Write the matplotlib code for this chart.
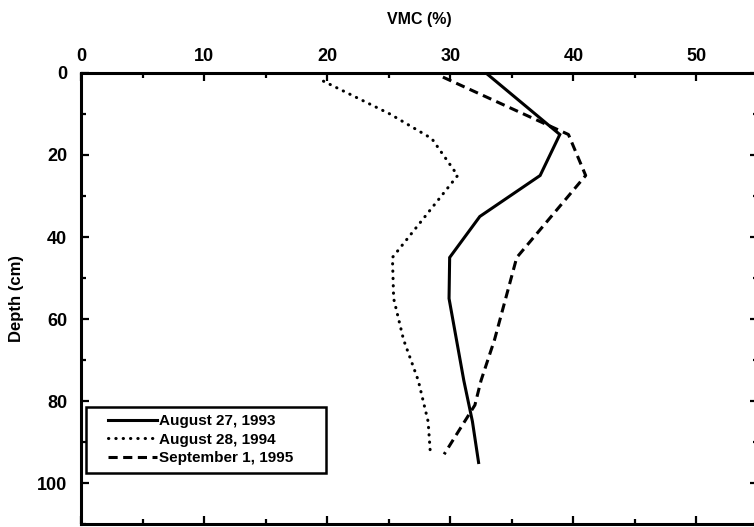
import matplotlib
matplotlib.use("Agg")
import numpy as np
import matplotlib.pyplot as plt
from matplotlib.ticker import MultipleLocator
from matplotlib.legend_handler import HandlerLine2D

plt.rcParams['font.family'] = ['Liberation Sans', 'DejaVu Sans']
plt.rcParams['font.weight'] = 'bold'

# Data
labels = ["August 27, 1993", "August 28, 1994", "September 1, 1995"]

depth_1993 = [0, 15, 25, 35, 45, 55, 65, 75, 85, 95]
vmc_1993 = [32.9, 38.9, 37.3, 32.4, 29.95, 29.9, 30.5, 31.1, 31.8, 32.3]

depth_1994 = [2, 10, 16, 25, 45, 55, 65, 75, 85, 93.5]
vmc_1994 = [19.7, 25.1, 28.5, 30.6, 25.3, 25.4, 26.2, 27.4, 28.2, 28.4]

depth_1995 = [1, 15, 25, 35, 45, 55, 65, 75, 81, 93]
vmc_1995 = [29.4, 39.6, 41.0, 38.2, 35.4, 34.5, 33.6, 32.5, 32.0, 29.5]

x_major = [0, 10, 20, 30, 40, 50]
y_major = [0, 20, 40, 60, 80, 100]


class GapHandler(HandlerLine2D):
    """Legend line handler leaving an empty gap before the line sample."""
    def __init__(self, gap_frac=0.23, **kw):
        super().__init__(**kw)
        self.gap_frac = gap_frac

    def create_artists(self, legend, orig_handle, xdescent, ydescent,
                       width, height, fontsize, trans):
        arts = super().create_artists(legend, orig_handle, xdescent, ydescent,
                                      width, height, fontsize, trans)
        for a in arts:
            x = np.asarray(a.get_xdata(), dtype=float)
            if x.size > 1:
                x0, x1 = x.min(), x.max()
                a.set_xdata(np.linspace(x0 + self.gap_frac * (x1 - x0), x1, x.size))
        return arts


fig = plt.figure(figsize=(7.54, 5.27), dpi=100)
ax = fig.add_axes([81/754, 1 - 524/527, 677/754, 451/527])

lw = 2.2
l1, = ax.plot(vmc_1993, depth_1993, color='black', lw=lw, linestyle='-',
              solid_joinstyle='miter', label=labels[0])
l2, = ax.plot(vmc_1994, depth_1994, color='black', lw=lw, linestyle=(0, (0.1, 2.3)),
              dash_capstyle='round', label=labels[1])
l3, = ax.plot(vmc_1995, depth_1995, color='black', lw=lw, linestyle=(0, (3, 1.8)),
              label=labels[2])

ax.set_xlim(0, 55)
ax.set_ylim(110, 0)
ax.set_xticks(x_major)
ax.set_yticks(y_major)
ax.xaxis.set_minor_locator(MultipleLocator(5))
ax.yaxis.set_minor_locator(MultipleLocator(10))

ax.tick_params(which='both', direction='in', top=True, bottom=True,
               left=True, right=True, labeltop=True, labelbottom=False,
               width=1.6, color='black')
ax.tick_params(which='major', length=6)
ax.tick_params(which='minor', length=3.5)
ax.tick_params(axis='x', which='major', labelsize=13, pad=6)
ax.tick_params(axis='y', which='major', labelsize=13, pad=10)
for t in ax.get_xticklabels() + ax.get_yticklabels():
    t.set_fontweight('bold')

for s in ax.spines.values():
    s.set_linewidth(2.2)

ax.xaxis.set_label_position('top')
ax.set_xlabel("VMC (%)", fontsize=11.5, fontweight='bold', labelpad=17)
ax.set_ylabel("Depth (cm)", fontsize=12, fontweight='bold', labelpad=9)

hm = {h: GapHandler(gap_frac=0.23) for h in (l1, l2, l3)}
leg = ax.legend(handles=[l1, l2, l3], handler_map=hm,
                loc='lower left', mode='expand',
                bbox_to_anchor=(5/677, 51/451, 240/677, 68/451),
                borderaxespad=0, fancybox=False, frameon=True,
                prop={'size': 11, 'weight': 'bold'}, handlelength=4.15,
                handletextpad=0.1, labelspacing=0.3, borderpad=0.5,
                edgecolor='black')
leg.get_frame().set_linewidth(1.8)
leg.get_frame().set_alpha(1)

fig.savefig("out.png", dpi=100)
